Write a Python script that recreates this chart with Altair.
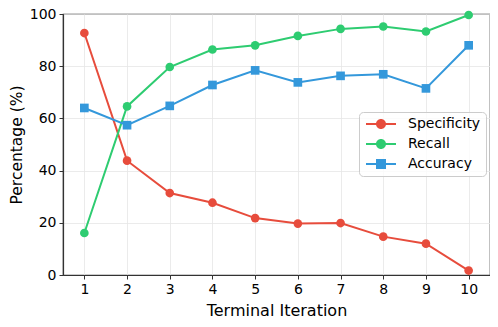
import altair as alt
import pandas as pd

iterations = [1, 2, 3, 4, 5, 6, 7, 8, 9, 10]
specificity = [92.7, 43.8, 31.4, 27.7, 21.8, 19.7, 19.9, 14.7, 12.0, 1.7]
recall = [16.1, 64.6, 79.7, 86.4, 88.0, 91.6, 94.3, 95.2, 93.3, 99.6]
accuracy = [64.0, 57.4, 64.8, 72.8, 78.4, 73.8, 76.3, 76.9, 71.5, 88.0]

series_names = ["Specificity", "Recall", "Accuracy"]
series_colors = ["#e74c3c", "#2ecc71", "#3498db"]

rows = []
for name, vals in zip(series_names, [specificity, recall, accuracy]):
    for it, v in zip(iterations, vals):
        rows.append({"iter": it, "value": v, "series": name})
df = pd.DataFrame(rows)

legend_df = pd.DataFrame({"iter": [None] * 3, "value": [None] * 3, "series": series_names})

FONT = "DejaVu Sans"

xenc = alt.X("iter:Q", scale=alt.Scale(domain=[0.5, 10.5], nice=False, zero=False),
             axis=alt.Axis(values=iterations, title="Terminal Iteration", format="d"))
yenc = alt.Y("value:Q", scale=alt.Scale(domain=[0, 100], nice=False),
             axis=alt.Axis(values=[0, 20, 40, 60, 80, 100], title="Percentage (%)"))

def cscale():
    return alt.Scale(domain=series_names, range=series_colors)

lines = alt.Chart(df).mark_line(strokeWidth=2).encode(
    x=xenc, y=yenc,
    color=alt.Color("series:N", scale=cscale(), legend=None),
    detail="series:N",
)

points = alt.Chart(df).mark_point(filled=True, opacity=1).encode(
    x=xenc, y=yenc,
    color=alt.Color("series:N", scale=cscale(), legend=None),
    shape=alt.Shape("series:N", scale=alt.Scale(domain=series_names, range=["circle", "circle", "square"]), legend=None),
    size=alt.Size("series:N", scale=alt.Scale(domain=series_names, range=[75, 75, 115]), legend=None),
)

circ_path = "M-3,-0.2H3V0.2H-3Z M1,0A1,1,0,1,1,-1,0A1,1,0,1,1,1,0Z"
sq_path = "M-3,-0.2H3V0.2H-3Z M-1,-1H1V1H-1Z"

leg = alt.Legend(
    title=None, orient="none", legendX=296, legendY=98,
    labelFont=FONT, labelFontSize=14, labelColor="#000",
    symbolSize=100, symbolOffset=10, labelOffset=20,
    rowPadding=6, padding=5,
    strokeColor="#cccccc", fillColor="rgba(255,255,255,0.8)", cornerRadius=4,
    symbolStrokeWidth=0, symbolOpacity=1,
)

legend_layer = alt.Chart(legend_df).mark_point(filled=True, opacity=1).encode(
    x=xenc, y=yenc,
    color=alt.Color("series:N", scale=cscale(), legend=leg),
    shape=alt.Shape("series:N", scale=alt.Scale(domain=series_names, range=[circ_path, circ_path, sq_path]), legend=leg),
)

chart = alt.layer(lines, points, legend_layer).resolve_scale(
    color="independent", shape="independent", size="independent"
).properties(
    width=427, height=261,
    autosize=alt.AutoSizeParams(type="none"),
    padding={"left": 55, "top": 6, "right": 0, "bottom": 45},
).configure_view(
    stroke="#333333", strokeWidth=1.2
).configure_axis(
    labelFont=FONT, titleFont=FONT, labelFontSize=14, titleFontSize=16,
    labelColor="#000", titleColor="#000", titleFontWeight="normal",
    grid=True, gridColor="#e6e6e6", gridWidth=0.8,
    domainColor="#333333", domainWidth=1.2, tickColor="#333333", tickSize=4, tickWidth=1,
    labelPadding=3,
).configure_axisY(
    titlePadding=4.5, titleFontSize=15.5
).configure_axisX(
    titlePadding=6
)

chart.save("out.html", embed_options={"renderer": "svg", "actions": False})
